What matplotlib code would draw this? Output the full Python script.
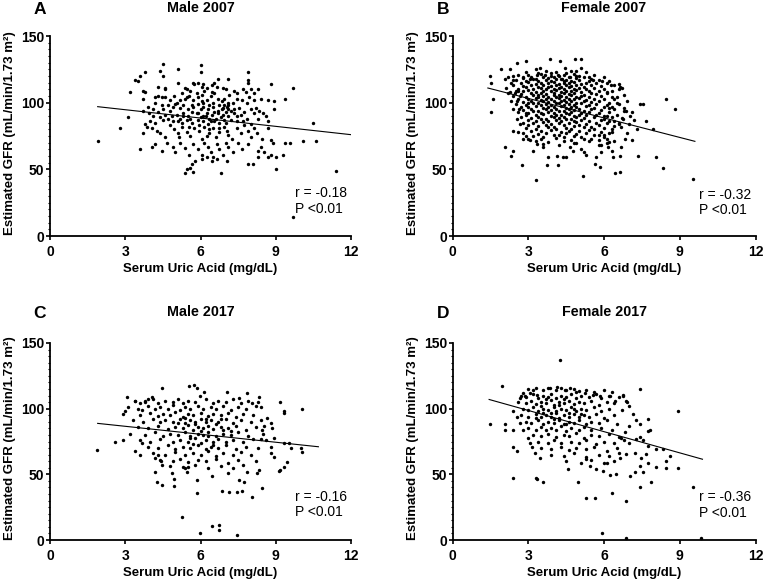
import matplotlib
matplotlib.use("Agg")
import matplotlib.pyplot as plt
from matplotlib.ticker import MultipleLocator

# ---------------- data ----------------
panel_letters = ["A", "B", "C", "D"]
panel_titles = ["Male 2007", "Female 2007", "Male 2017", "Female 2017"]
r_values = ["r = -0.18", "r = -0.32", "r = -0.16", "r = -0.36"]
p_values = ["P <0.01", "P <0.01", "P <0.01", "P <0.01"]
x_ticks = [0, 3, 6, 9, 12]
y_ticks = [0, 50, 100, 150]

male2007 = [
(4.5,129),(6.0,128),(4.4,124),(5.1,125),(6.0,123),(7.9,123),(3.8,123),(3.4,117),(3.5,116),(3.6,120),
(4.5,120),(6.7,118),(7.1,118),(7.9,117),(7.9,115),(8.8,114),(9.7,111),(3.7,109),(3.8,108),(4.6,111),
(4.6,110),(5.1,115),(5.4,111),(5.7,115),(5.75,114),(5.9,115),(6.05,112),(6.1,114),(6.25,111),(6.45,113),
(6.55,115),(6.65,112),(6.9,111),(7.0,110),(7.35,109),(7.45,107),(7.7,110),(7.8,108),(8.0,110),(8.15,107),
(8.3,110),(5.45,110),(5.6,109),(5.25,107),
(3.2,108),(3.7,103),(4.2,104),(4.3,105),(4.45,104),(4.6,104),(4.8,102),(4.95,105),(5.05,100),(5.2,102),
(5.4,103),(5.55,105),(5.7,102),(5.9,104),(6.05,106),(6.25,102),(6.4,105),(6.55,107),(6.7,103),(6.85,101),
(6.95,103),(7.1,100),(7.3,100),(7.45,103),(7.65,102),(7.85,100),(7.95,104),(8.15,102),(8.4,103),(8.7,102),
(8.95,101),(9.35,103),(4.2,100),(4.45,98),(4.7,98),(5.0,99),(5.3,98),(5.65,98),(5.9,99),(6.1,100),
(6.35,98),(6.5,100),(6.75,98),(6.95,98),(7.05,97),(7.1,95),
(3.7,94),(3.95,92),(4.1,95),(4.3,93),(4.5,95),(4.8,94),(4.85,90),(5.05,91),(5.2,88),(5.3,92),
(5.5,90),(5.65,93),(5.85,92),(6.0,95),(6.1,90),(6.25,92),(6.35,88),(6.45,91),(6.55,93),(6.7,92),
(6.85,95),(6.9,91),(7.0,93),(7.1,90),(7.2,87),(7.35,92),(7.45,90),(7.6,91),(7.75,93),(7.85,88),
(8.0,95),(8.15,92),(8.2,96),(8.35,94),(8.5,92),(8.6,90),(8.95,95),(3.1,89),(3.8,84),(4.0,86),
(4.2,85),(4.5,87),(4.7,88),(4.9,86),(5.1,86),(5.25,85),(5.45,87),(5.65,85),(5.9,87),(6.1,86),
(6.3,84),(6.55,86),(6.75,85),(6.95,87),(7.45,86),(7.7,86),(8.0,84),(8.3,88),(8.7,86),
(2.8,81),(3.7,77),(3.85,82),(4.05,81),(4.25,79),(4.4,77),(4.6,74),(4.8,83),(4.95,80),(5.1,77),
(5.25,82),(5.45,78),(5.6,75),(5.75,81),(5.95,79),(6.05,73),(6.15,82),(6.35,77),(6.5,81),(6.6,74),
(6.75,78),(6.95,82),(7.1,76),(7.25,73),(7.45,81),(7.6,77),(7.75,83),(7.9,79),(8.0,74),(8.15,81),
(8.25,77),(8.45,73),(8.7,81),(8.8,72),
(1.9,71),(3.6,65),(4.05,67),(4.2,69),(4.45,64),(4.65,70),(4.9,67),(5.0,63),(5.2,70),(5.4,66),
(5.55,61),(5.7,69),(5.9,65),(6.05,61),(6.15,70),(6.3,67),(6.4,63),(6.5,59),(6.65,69),(6.75,65),
(6.9,61),(7.0,70),(7.1,67),(7.3,63),(7.5,70),(7.65,65),(7.9,69),(8.3,64),(8.4,67),(8.55,63),
(8.7,59),(8.9,70),(9.3,61),(9.35,70),(9.55,70),(10.1,71),(10.6,71),
(5.4,47),(5.45,50),(5.6,51),(5.7,48),(5.65,54),(5.8,56),(6.05,58),(6.25,59),(6.45,56),(6.65,58),
(6.8,47),(7.05,56),(7.9,54),(8.1,54),(8.3,59),(8.8,61),(9.0,59),(9.0,50),(10.5,85),(9.7,14),
(11.4,49),
(5.5,95),(5.7,97),(5.9,92),(6.1,97),(6.3,95),(6.5,97),(6.7,94),(6.9,96),(7.1,98),(5.3,90),
(5.6,88),(6.0,89),(6.2,90),(6.4,86),(6.6,88),(6.8,89),(7.0,85),(7.2,94),(5.2,96),(4.9,97),
(4.6,91),(4.4,89),(6.05,101),(6.45,108),(6.15,109),(5.85,107),(5.45,104),(7.15,106),(7.55,96),(7.35,95),
(4.1,90),(3.9,97),(4.3,112),(6.35,80),(5.95,83),(5.55,82),(6.75,81),(7.05,79),(6.25,75),(5.15,74),
]

female2007 = [
(2.56,130),(2.93,131),(3.85,133),(4.27,131),(4.84,133),(5.07,133),(1.94,125),(2.27,125),(3.3,125),(3.46,126),
(4.45,126),(4.91,124),(5.1,126),(1.48,120),(1.51,115),(2.07,118),(2.4,120),(2.38,117),(2.8,119),(3.06,118),
(3.35,121),(3.66,121),(3.92,120),(4.18,121),(4.35,118),(4.64,119),(4.91,120),(5.41,119),(5.57,117),(5.94,116),
(6.29,113),(6.65,112),(6.59,110),(1.59,103),(1.51,93),(2.27,108),(2.47,107),(2.6,109),(2.69,105),(2.56,101),
(2.64,95),(2.56,88),(2.69,84),(2.93,92),(3.0,100),
(2.07,67),(2.4,64),(2.3,60),(2.77,53),(3.3,42),(5.17,45),(6.42,47),(6.65,48),(7.34,60),(8.07,59),
(8.33,51),(9.54,43),(8.44,103),(8.83,95),(7.44,99),(7.54,99),(7.65,86),(7.94,80),(7.02,90),(6.88,94),
(6.75,88),(6.69,82),(6.82,73),(6.69,67),(6.62,60),(6.36,59),(6.33,64),(6.16,67),(5.9,63),(5.7,59),
(5.63,54),(5.83,52),(5.3,61),(5.2,63),(5.1,65),(4.78,64),(4.64,67),(4.51,59),(4.38,59),(4.12,60),
(3.79,59),(3.75,53),(4.18,53),(3.59,67),(3.33,69),(3.2,64),(3.06,72),(2.8,73),(2.93,75),(2.6,78),
(2.4,79),
(6.1,108),(6.3,104),(6.5,100),(6.8,96),(7.1,93),(6.2,96),(6.0,90),(6.4,86),(6.6,84),(7.0,84),
(7.2,87),(6.3,78),(6.0,76),(5.8,72),(6.4,71),(6.9,77),(7.3,80),(7.1,72),(5.9,68),(6.1,70),
(2.9,123),(3.4,122.5),(3.7,124),(4.1,123),(4.5,122),(4.7,124),(5.3,123),
(2.6,121),(3.0,120.5),(3.5,121.5),(3.9,122),(4.2,120),(4.4,121),(4.8,121.5),(5.0,120),(5.6,121),
(2.2,119),(2.8,118.5),(3.1,119.5),(3.3,118),(3.6,119),(3.8,118.5),(4.0,119.5),(4.3,118),(4.6,119),(4.9,118.5),(5.2,119),(5.5,118),(6.0,119),
(2.5,117),(2.9,116.5),(3.2,117.5),(3.4,116),(3.7,117),(3.9,116.5),(4.1,117.5),(4.4,116),(4.5,117),(4.7,116.5),(5.0,117),(5.4,116),(5.8,117),(6.2,116.5),
(2.3,115),(2.7,114.5),(3.0,115.5),(3.3,114),(3.5,115),(3.8,114.5),(4.0,115.5),(4.2,114),(4.4,115),(4.6,114.5),(4.8,115.5),(5.1,114),(5.3,115),(5.7,114.5),(6.1,115),(6.6,114),
(2.4,113),(2.8,112.5),(3.1,113.5),(3.4,112),(3.6,113),(3.9,112.5),(4.1,113.5),(4.3,112),(4.5,113),(4.7,112.5),(4.9,113.5),(5.2,112),(5.5,113),(5.9,112.5),(6.4,113),
(2.1,111),(2.6,110.5),(2.9,111.5),(3.2,110),(3.5,111),(3.7,110.5),(3.8,111.5),(4.0,110),(4.2,111),(4.4,110.5),(4.6,111.5),(4.8,110),(5.0,111),(5.3,110.5),(5.6,111),(6.0,110),(6.7,111),
(2.5,109),(2.8,108.5),(3.0,109.5),(3.3,108),(3.6,109),(3.9,108.5),(4.1,109.5),(4.3,108),(4.5,109),(4.7,108.5),(4.9,109.5),(5.1,108),(5.4,109),(5.8,108.5),(6.3,109),
(2.2,107),(2.7,106.5),(3.1,107.5),(3.4,106),(3.5,107),(3.7,106.5),(4.0,107.5),(4.2,106),(4.4,107),(4.6,106.5),(4.8,107.5),(5.2,106),(5.5,107),(5.7,106.5),(6.1,107),(6.8,106),
(2.4,105),(2.9,104.5),(3.2,105.5),(3.4,104),(3.6,105),(3.8,104.5),(4.0,105.5),(4.1,104),(4.3,105),(4.5,104.5),(4.7,105.5),(4.9,104),(5.1,105),(5.4,104.5),(5.9,105),(6.5,104),
(2.6,103),(3.0,102.5),(3.3,103.5),(3.5,102),(3.7,103),(3.9,102.5),(4.2,103.5),(4.4,102),(4.6,103),(4.8,102.5),(5.0,103.5),(5.3,102),(5.6,103),(6.0,102.5),(6.4,103),
(2.3,101),(2.8,100.5),(3.1,101.5),(3.4,100),(3.6,101),(3.8,100.5),(4.0,101.5),(4.1,100),(4.3,101),(4.5,100.5),(4.7,101.5),(4.9,100),(5.2,101),(5.5,100.5),(5.8,101),(6.2,100),(6.9,101),
(2.5,99),(2.9,98.5),(3.2,99.5),(3.5,98),(3.7,99),(3.9,98.5),(4.2,99.5),(4.4,98),(4.6,99),(4.8,98.5),(5.1,99.5),(5.4,98),(5.7,99),(6.1,98.5),(6.6,99),
(2.7,97),(3.0,96.5),(3.3,97.5),(3.6,96),(3.8,97),(4.0,96.5),(4.3,97.5),(4.5,96),(4.7,97),(4.9,96.5),(5.3,97.5),(5.6,96),(6.0,97),(6.3,96.5),
(2.4,95),(2.8,94.5),(3.1,95.5),(3.4,94),(3.7,95),(3.9,94.5),(4.1,95.5),(4.4,94),(4.6,95),(4.8,94.5),(5.0,95.5),(5.2,94),(5.5,95),(5.9,94.5),(6.4,95),(6.8,94),
(2.6,93),(3.0,92.5),(3.2,93.5),(3.5,92),(3.8,93),(4.0,92.5),(4.2,93.5),(4.5,92),(4.7,93),(5.1,92.5),(5.4,93),(5.8,92),(6.2,93),
(2.9,91),(3.3,90.5),(3.6,91.5),(3.9,90),(4.1,91),(4.3,90.5),(4.6,91.5),(4.8,90),(5.0,91),(5.3,90.5),(5.7,91),(6.1,90),(6.5,91),
(2.7,89),(3.1,88.5),(3.4,89.5),(3.7,88),(4.0,89),(4.2,88.5),(4.4,89.5),(4.7,88),(4.9,89),(5.2,88.5),(5.6,89),(6.0,88),(6.3,89),(6.7,88.5),
(3.0,87),(3.3,86.5),(3.5,87.5),(3.8,86),(4.1,87),(4.3,86.5),(4.5,87.5),(4.8,86),(5.1,87),(5.4,86.5),(5.9,87),(6.2,86),
(2.8,85),(3.2,84.5),(3.6,85.5),(3.9,84),(4.2,85),(4.6,84.5),(4.9,85.5),(5.3,84),(5.7,85),(6.1,84.5),(6.6,85),
(3.0,83),(3.4,82.5),(3.7,83.5),(4.0,82),(4.4,83),(4.8,82.5),(5.0,83.5),(5.5,82),(5.8,83),(6.4,82.5),
(2.9,81),(3.3,80.5),(3.8,81.5),(4.1,80),(4.5,81),(4.7,80.5),(5.2,81.5),(5.6,80),(6.0,81),(6.3,80.5),
(3.1,79),(3.5,78.5),(3.9,79.5),(4.3,78),(4.6,79),(5.0,78.5),(5.4,79.5),(5.9,78),
(2.8,77),(3.4,76.5),(3.7,77.5),(4.2,76),(4.5,77),(4.9,76.5),(5.3,77.5),(5.8,76),(6.2,77),
(3.2,75),(3.6,74.5),(4.0,75.5),(4.4,74),(4.8,75),(5.1,74.5),(5.6,75.5),(6.0,74),
(3.0,73),(3.5,72.5),(4.1,73.5),(4.7,72),(5.2,73),(5.5,72.5),(6.1,73),
(3.3,71),(3.8,70.5),(4.4,71.5),(4.9,70),(5.4,71),(6.2,70.5),
(3.6,69),(4.2,68.5),(4.8,69.5),(5.8,68),
]

male2017 = [
(4.47,116),(5.56,117),(5.76,118),(5.86,116),(5.98,110),(6.15,113),(7.05,113),(7.85,112),(7.54,108),(8.34,109),
(3.08,109),(3.37,106),(2.98,98),(3.57,104),(3.77,106),(3.9,107),(4.06,109),(3.67,99),(9.17,105),(9.33,98.5),
(9.33,96.5),(10.05,100),(8.07,104),(8.2,102),
(8.67,93),(8.8,89),(8.86,85),(8.53,87),(8.47,84),(8.93,78),(8.4,77),(8.6,76),(8.8,71),(8.93,63.5),
(8.8,66),(9.33,73.6),(9.53,74.1),(9.99,69.8),(10.05,67.3),(9.59,69.8),(9.46,59.7),(9.33,55.9),(9.17,53.3),(8.34,53.3),
(2.58,74.9),(2.91,76.2),(1.89,68.5),(3.37,68),(3.57,64.7),(3.67,74.1),(4.17,62.2),(4.3,64.7),(4.43,60.4),(4.46,57.1),
(5.29,55.3),(5.49,55.3),
(4.17,52),(4.87,51.3),(5.46,52),(4.27,44.4),(4.47,41.9),(4.96,46.5),(4.96,41.1),(5.85,45.7),(5.85,35.6),(6.45,48.7),
(6.85,37.3),(7.14,36.3),(7.45,36.3),(7.67,37.6),(7.54,45.7),(7.74,43.9),(8.04,32.5),(8.44,39.8),(7.08,50.8),(9.13,52.8),
(7.87,52),(8.27,51.3),(5.27,17.8),(5.98,5.6),(6.45,10.7),(6.75,11.4),(6.75,7.6),(7.47,3.6),
(3.4,106),(3.8,105),(4.1,107),(4.3,104.5),(4.6,106),(4.9,105),(5.1,107.5),(5.3,104),(5.5,106),(5.8,105),(6.2,107),(6.5,104.5),(6.7,106),(7.0,105),(7.3,107),(7.6,104),(7.9,106),(8.3,105),
(3.1,101),(3.5,100),(3.9,102),(4.2,99.5),(4.4,101),(4.7,100),(4.9,102.5),(5.2,99),(5.4,101),(5.6,100),(5.9,102),(6.1,99.5),(6.4,101),(6.6,100),(6.9,102),(7.2,99),(7.5,101),(7.8,100),(8.4,101),
(2.9,96),(3.6,95),(4.0,97),(4.3,94.5),(4.5,96),(4.8,95),(5.0,97.5),(5.3,94),(5.5,96),(5.7,95),(6.0,97),(6.3,94.5),(6.5,96),(6.8,95),(7.1,97),(7.4,94),(7.7,96),(8.1,95),
(3.3,91),(3.7,90),(4.1,92),(4.4,89.5),(4.6,91),(4.9,90),(5.2,92.5),(5.4,89),(5.6,91),(5.8,90),(6.0,92),(6.2,89.5),(6.4,91),(6.7,90),(7.0,92),(7.3,89),(7.6,91),(8.0,90),(8.4,91),
(3.5,86),(3.9,85),(4.3,87),(4.7,84.5),(5.0,86),(5.3,85),(5.5,87.5),(5.7,84),(5.9,86),(6.1,85),(6.3,87),(6.5,84.5),(6.8,86),(7.1,85),(7.4,87),(7.8,84),(8.2,86),
(3.2,81),(3.8,80),(4.2,82),(4.5,79.5),(4.8,81),(5.1,80),(5.4,82.5),(5.6,79),(5.9,81),(6.1,80),(6.3,82),(6.6,79.5),(6.9,81),(7.2,80),(7.5,82),(7.9,79),(8.5,81),
(3.6,76),(4.0,75),(4.4,77),(4.9,74.5),(5.2,76),(5.5,75),(5.8,77.5),(6.0,74),(6.2,76),(6.5,75),(6.7,77),(7.0,74.5),(7.3,76),(7.7,75),(8.1,77),
(3.9,71),(4.3,70),(4.7,72),(5.0,69.5),(5.3,71),(5.6,70),(5.9,72.5),(6.2,69),(6.4,71),(6.7,70),(7.0,72),(7.4,69.5),(7.8,71),(8.3,70),
(4.1,66),(4.6,65),(5.0,67),(5.4,64.5),(5.7,66),(6.0,65),(6.3,67.5),(6.6,64),(6.9,66),(7.3,65),(7.6,67),(8.0,64.5),
(4.4,61),(4.9,60),(5.2,62),(5.5,59.5),(5.9,61),(6.2,60),(6.6,62),(7.1,59),(7.5,61),(8.2,60),
(4.8,56),(5.4,55),(5.8,57),(6.3,54.5),(6.8,56),(7.3,55),(7.7,57),
(5.4,93),(5.8,88),(6.0,83),(6.3,79),(6.6,88),(6.9,84),(5.6,78),(6.2,92),(6.8,92),(5.1,89),(7.2,83),(5.7,73),(6.5,72),
]

female2017 = [
(4.27,137),(1.98,117),(1.48,88),(2.38,47),(3.3,47),(3.35,46.5),(3.59,44),(4.97,44),(5.28,32),(5.66,32),
(6.33,36),(6.86,30),(5.93,5),(6.86,1.3),(9.85,1.3),(9.52,40),(8.93,98),(8.93,55),(8.62,64),(8.46,60),
(8.44,55),(7.87,44.5),(7.44,40),(7.44,115),(7.74,92),(7.81,84),(2.4,71),(2.56,68),(2.07,88),(2.07,84),
(2.4,84),
(6.75,110.5),(6.88,105.5),(7.0,101.8),(7.15,96.2),(7.28,91.7),(7.44,88),(7.0,86.7),(6.82,82.2),(6.69,77.9),(7.0,74.1),
(7.28,76.6),(7.44,78.6),(7.74,82.9),(7.54,76.1),(7.21,66.6),(6.88,65.3),(6.62,62.8),(7.48,62.1),(7.67,65.3),(7.74,71.6),
(8.07,69.6),(8.33,69.6),(7.74,58.5),(7.41,56.5),(7.21,52),(7.54,52),(8.07,55.3),(7.02,49),(6.49,50.3),(6.23,49.5),
(5.96,52.8),(5.7,54),(5.44,56.5),(4.58,54),(5.3,61.6),(6.1,59),
(2.4,98),(2.56,93.7),(2.67,89.2),(2.8,83.7),(3.0,77.9),(3.06,74.1),(3.13,71.1),(3.46,62.8),(3.26,66.6),(2.67,108),
(2.8,111.8),(3.06,112.3),(2.86,109.3),(3.2,114.3),(3.33,110.6),
(3.85,115.6),(4.12,116.8),(4.45,114.3),(4.64,115.6),(4.91,113),(5.24,111.8),(5.57,110.6),(5.83,109.3),(6.23,109.3),(6.43,105.5),
(6.75,109.8),
(3.0,115),(3.3,116),(3.6,114),(3.8,115.5),(4.1,114.5),(4.3,116),(4.5,114),(4.8,115),(5.0,113.5),(5.3,114.5),(5.6,113),(6.0,114),(6.3,112.5),
(2.7,110),(2.9,109),(3.2,111),(3.4,108.5),(3.6,110),(3.8,109),(3.9,111.5),(4.1,108),(4.3,110),(4.5,109),(4.7,111),(4.9,108.5),(5.1,110),(5.4,109),(5.7,111),(5.9,108),(6.2,110),(6.6,109),
(2.6,105),(2.9,104),(3.1,106),(3.3,103.5),(3.5,105),(3.7,104),(3.9,106.5),(4.0,103),(4.2,105),(4.4,104),(4.6,106),(4.8,103.5),(5.0,105),(5.2,104),(5.5,106),(5.8,103),(6.1,105),(6.4,104),(6.9,105),
(2.8,100),(3.0,99),(3.2,101),(3.4,98.5),(3.6,100),(3.8,99),(4.0,101.5),(4.1,98),(4.3,100),(4.5,99),(4.7,101),(4.9,98.5),(5.1,100),(5.3,99),(5.6,101),(5.9,98),(6.2,100),(6.7,99),
(2.7,95),(3.0,94),(3.3,96),(3.5,93.5),(3.7,95),(3.9,94),(4.1,96.5),(4.2,93),(4.4,95),(4.6,94),(4.8,96),(5.0,93.5),(5.2,95),(5.4,94),(5.7,96),(6.0,93),(6.4,95),
(2.9,90),(3.1,89),(3.4,91),(3.6,88.5),(3.8,90),(4.0,89),(4.2,91.5),(4.4,88),(4.6,90),(4.8,89),(5.0,91),(5.3,88.5),(5.5,90),(5.8,89),(6.1,91),(6.5,88),
(3.0,85),(3.3,84),(3.5,86),(3.7,83.5),(3.9,85),(4.1,84),(4.3,86.5),(4.5,83),(4.7,85),(5.0,84),(5.2,86),(5.5,83.5),(5.9,85),(6.3,84),
(3.2,80),(3.5,79),(3.8,81),(4.1,78.5),(4.4,80),(4.6,79),(4.9,81.5),(5.2,78),(5.5,80),(5.8,79),(6.2,81),(6.6,78.5),
(3.4,75),(3.8,74),(4.0,76),(4.3,73.5),(4.7,75),(5.0,74),(5.3,76.5),(5.7,73),(6.0,75),(6.4,74),(6.8,76),
(3.5,70),(3.9,69),(4.3,71),(4.6,68.5),(4.9,70),(5.3,69),(5.6,71),(6.1,68),(6.5,70),
(3.9,65),(4.4,64),(4.8,66),(5.3,63.5),(5.8,65),(6.2,64),(6.6,66),
(4.5,60),(5.1,59),(5.5,61),(6.0,58.5),(6.4,60),
(3.5,102),(3.9,97),(4.2,103),(4.6,97),(4.0,92),(4.4,107),(3.7,107),(4.8,100),(3.3,93),(4.5,88),(5.1,96),(3.6,97),
]

# regression line end points (x, y)
fit_x = [[1.9, 12.0], [1.4, 9.6], [1.9, 10.7], [1.45, 9.9]]
fit_y = [[97.0, 76.0], [111.0, 71.0], [88.8, 71.0], [107.0, 61.5]]
stat_text_y = [[32, 20], [31, 19.5], [33, 21], [33, 20.5]]

datasets = [male2007, female2007, male2017, female2017]

# ---------------- figure ----------------
plt.rcParams['font.family'] = ['Liberation Sans', 'DejaVu Sans']
W, H = 764, 582
fig = plt.figure(figsize=(W / 100, H / 100), dpi=100)


def rect(l, r, t, b):
    return [l / W, 1 - b / H, (r - l) / W, (b - t) / H]


boxes = [rect(50, 351, 36, 236), rect(452.5, 755.5, 36, 236),
         rect(50, 351, 343, 540), rect(452.5, 755.5, 343, 540)]
title_y = [8, 8, 312, 312]
letter_x = [40, 443, 40, 443]
ylabel_x = [10, 413, 10, 413]

for i in range(4):
    ax = fig.add_axes(boxes[i])
    pts = datasets[i]
    xs = [p[0] for p in pts]
    ys = [p[1] for p in pts]
    ax.scatter(xs, ys, s=6, c='black', linewidths=0, clip_on=False, zorder=3)
    ax.plot(fit_x[i], fit_y[i], color='black', lw=0.8, zorder=2)
    ax.set_xlim(0, 12)
    ax.set_ylim(0, 150)
    ax.set_xticks(x_ticks)
    ax.set_yticks(y_ticks)
    ax.yaxis.set_minor_locator(MultipleLocator(5))
    for s in ['top', 'right']:
        ax.spines[s].set_visible(False)
    for s in ['left', 'bottom']:
        ax.spines[s].set_linewidth(1.3)
    ax.tick_params(axis='both', which='major', length=3, width=1.2, labelsize=10, pad=1)
    ax.tick_params(axis='x', which='major', pad=3.5)
    ax.tick_params(axis='y', which='minor', length=1.8, width=0.8)
    for lab in ax.get_xticklabels() + ax.get_yticklabels():
        lab.set_fontweight('bold')
    ax.set_xlabel('Serum Uric Acid (mg/dL)', fontsize=9.5, fontweight='bold', labelpad=3)
    ax.text(9.75, stat_text_y[i][0], r_values[i], fontsize=10, va='center', ha='left')
    ax.text(9.75, stat_text_y[i][1], p_values[i], fontsize=10, va='center', ha='left')

    b = boxes[i]
    cx = b[0] + b[2] / 2
    fig.text(cx, 1 - title_y[i] / H, panel_titles[i], fontsize=10.3, fontweight='bold',
             ha='center', va='center')
    fig.text(letter_x[i] / W, 1 - (title_y[i] + 2) / H, panel_letters[i], fontsize=12.5,
             fontweight='bold', ha='center', va='center')
    fig.text(ylabel_x[i] / W, b[1] + b[3] / 2 + 3 / H, 'Estimated GFR (mL/min/1.73 m²)',
             fontsize=9.5, fontweight='bold', rotation=90, ha='center', va='center')

fig.savefig('out.png', dpi=100)
